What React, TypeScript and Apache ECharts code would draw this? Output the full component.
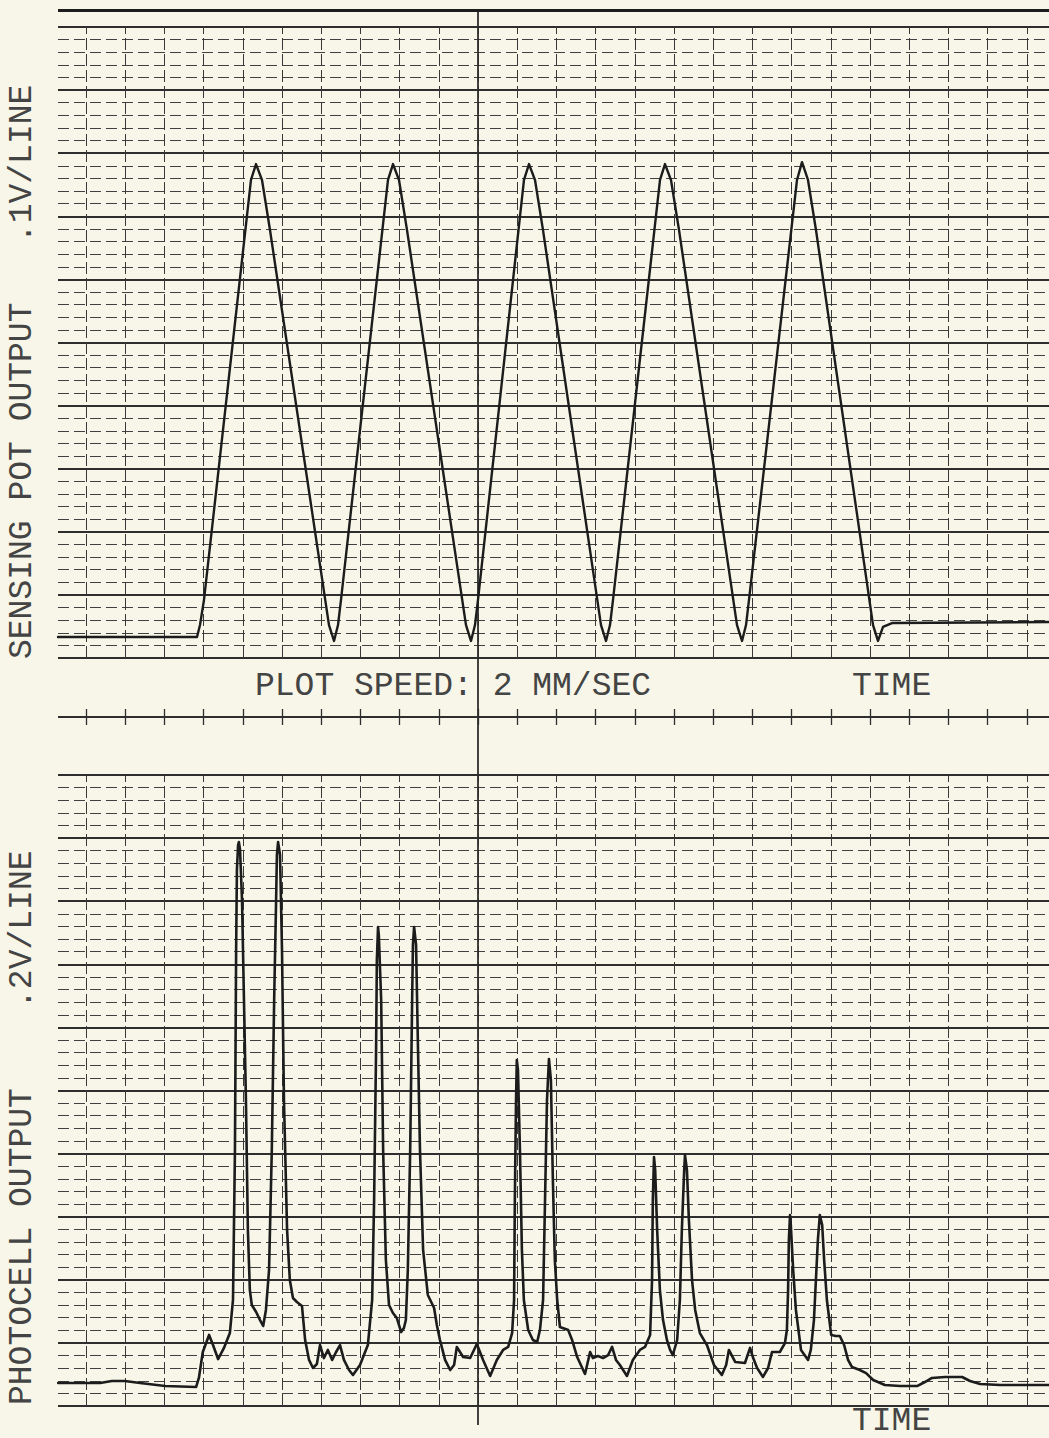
import React, { useEffect, useRef } from "react";
import * as echarts from "echarts";

// Time in chart-paper divisions (vertical grid line = 1 division)
const X_MIN = -0.714;
const X_MAX = 24.566;
const gridTimes = [0, 1, 2, 3, 4, 5, 6, 7, 8, 9, 10, 11, 12, 13, 14, 15, 16, 17, 18, 19, 20, 21, 22, 23, 24];

// Upper trace: sensing pot output, in lines (.1V/line)
const timeTop = [
  -0.714, 2.832, 2.908, 3.01, 4.209, 4.337, 4.49, 4.694, 6.199, 6.327, 6.429, 6.505,
  7.704, 7.832, 7.985, 8.189, 9.694, 9.821, 9.923, 10.0, 11.173, 11.301, 11.454, 11.658,
  13.138, 13.265, 13.367, 13.444, 14.643, 14.77, 14.923, 15.128, 16.607, 16.735, 16.837, 16.913,
  18.138, 18.265, 18.418, 18.622, 20.077, 20.204, 20.332, 20.561, 24.566,
];
const potTop = [
  1.66, 1.66, 2.61, 4.6, 37.88, 39.14, 37.88, 33.91, 2.61, 1.35, 2.61, 4.6,
  37.88, 39.14, 37.88, 33.91, 2.61, 1.35, 2.61, 4.6, 37.88, 39.14, 37.88, 33.91,
  2.61, 1.35, 2.61, 4.6, 37.88, 39.14, 37.88, 33.91, 2.61, 1.35, 2.61, 4.6,
  37.88, 39.29, 37.88, 33.91, 2.61, 1.35, 2.46, 2.77, 2.85,
];

// Lower trace: photocell output, in lines (.2V/line)
const timeBottom = [
  -0.71, 0.36, 0.66, 0.99, 1.38, 2.02, 2.81, 2.88, 2.98, 3.14,
  3.24, 3.37, 3.52, 3.67, 3.75, 3.8, 3.83, 3.85, 3.88, 3.9,
  3.93, 3.98, 4.03, 4.08, 4.13, 4.18, 4.23, 4.34, 4.44, 4.52,
  4.59, 4.67, 4.74, 4.8, 4.85, 4.87, 4.9, 4.95, 5.0, 5.05,
  5.13, 5.2, 5.28, 5.38, 5.51, 5.59, 5.69, 5.79, 5.89, 5.97,
  6.07, 6.17, 6.28, 6.38, 6.48, 6.58, 6.71, 6.81, 6.99, 7.19,
  7.3, 7.35, 7.4, 7.42, 7.45, 7.47, 7.53, 7.58, 7.65, 7.73,
  7.83, 7.93, 8.04, 8.11, 8.16, 8.21, 8.27, 8.32, 8.34, 8.37,
  8.42, 8.47, 8.52, 8.6, 8.72, 8.88, 8.95, 9.03, 9.16, 9.29,
  9.39, 9.46, 9.62, 9.8, 9.97, 10.13, 10.31, 10.48, 10.64, 10.77,
  10.87, 10.92, 10.94, 10.97, 10.99, 11.02, 11.07, 11.12, 11.17, 11.28,
  11.4, 11.51, 11.58, 11.66, 11.71, 11.76, 11.81, 11.86, 11.91, 11.96,
  12.02, 12.09, 12.3, 12.4, 12.53, 12.73, 12.86, 12.93, 13.06, 13.19,
  13.32, 13.42, 13.52, 13.62, 13.8, 13.95, 14.13, 14.26, 14.39, 14.44,
  14.46, 14.49, 14.52, 14.57, 14.64, 14.72, 14.82, 14.9, 14.97, 15.08,
  15.15, 15.2, 15.26, 15.28, 15.33, 15.38, 15.46, 15.54, 15.66, 15.84,
  16.02, 16.22, 16.33, 16.4, 16.56, 16.81, 16.94, 17.02, 17.12, 17.27,
  17.4, 17.5, 17.7, 17.83, 17.88, 17.91, 17.93, 17.96, 17.98, 18.04,
  18.11, 18.24, 18.42, 18.49, 18.57, 18.62, 18.67, 18.72, 18.78, 18.83,
  18.9, 19.01, 19.13, 19.23, 19.34, 19.44, 19.54, 19.74, 19.9, 20.08,
  20.38, 20.77, 21.2, 21.4, 21.58, 21.91, 22.35, 22.55, 22.81, 23.32,
  24.57,
];
const photoBottom = [
  1.82, 1.82, 1.98, 1.98, 1.82, 1.58, 1.51, 2.22, 4.28, 5.63,
  4.83, 3.72, 4.6, 5.78, 8.4, 20.29, 36.13, 42.47, 44.45, 44.69,
  44.06, 40.1, 32.17, 24.25, 13.95, 9.19, 8.0, 7.45, 6.81, 6.34,
  7.61, 10.78, 20.29, 32.17, 40.1, 43.66, 44.69, 43.66, 36.13, 24.25,
  13.95, 9.98, 8.56, 8.24, 7.92, 5.23, 3.65, 3.01, 3.33, 4.83,
  3.8, 4.44, 3.65, 4.28, 4.83, 3.65, 2.85, 2.46, 3.25, 4.83,
  8.4, 16.32, 28.21, 35.34, 37.96, 37.32, 32.17, 20.29, 11.57, 8.0,
  7.37, 6.97, 5.86, 6.18, 6.81, 10.78, 20.29, 32.17, 36.53, 37.96,
  36.53, 28.21, 20.29, 12.36, 8.8, 7.77, 6.42, 5.23, 3.65, 2.85,
  3.25, 4.68, 3.88, 3.8, 4.91, 3.65, 2.38, 3.65, 4.44, 4.68,
  5.78, 8.4, 16.32, 24.25, 27.42, 26.62, 20.29, 12.36, 8.4, 6.02,
  5.23, 5.07, 6.02, 8.4, 16.32, 24.25, 27.5, 25.83, 17.91, 11.57,
  8.4, 6.26, 6.02, 5.23, 3.88, 2.54, 4.28, 3.8, 3.96, 3.8,
  4.04, 4.68, 3.65, 3.25, 2.38, 3.65, 4.44, 4.68, 5.63, 9.98,
  16.32, 19.73, 18.7, 13.95, 9.19, 6.81, 5.23, 4.44, 4.04, 5.23,
  8.4, 13.95, 18.7, 19.89, 18.7, 14.74, 9.98, 7.61, 5.78, 4.83,
  3.25, 2.46, 3.25, 4.44, 3.49, 3.41, 4.6, 3.8, 3.01, 2.3,
  3.01, 4.28, 4.28, 4.99, 6.02, 9.19, 13.15, 15.13, 14.34, 10.78,
  7.61, 4.44, 3.65, 4.44, 6.81, 9.98, 13.15, 15.13, 14.34, 11.57,
  8.4, 5.63, 5.55, 5.55, 4.83, 3.65, 3.09, 2.85, 2.61, 2.06,
  1.66, 1.58, 1.58, 1.9, 2.22, 2.3, 2.3, 1.98, 1.74, 1.66,
  1.66,
];

const CENTER_TIME = 10;
const PAPER = "#f7f6e8";
const INK = "#1c1c1c";
const GRIDINK = "#2e2e2e";
const TYPE = "#444444";
const FONT = "'Liberation Mono', 'DejaVu Sans Mono', monospace";

export default function App() {
  const ref = useRef<HTMLDivElement>(null);

  useEffect(() => {
    document.body.style.margin = "0";
    const chart = echarts.init(ref.current!, null, { renderer: "svg" });

    const panelY = (idx: number) => ({
      type: "value",
      gridIndex: idx,
      min: 0,
      max: 50,
      interval: 5,
      axisLine: { show: false },
      axisTick: { show: false },
      axisLabel: { show: false },
      splitLine: { show: true, lineStyle: { color: GRIDINK, width: 1.8 } },
      minorTick: { show: false, splitNumber: 5 },
      minorSplitLine: { show: true, lineStyle: { color: "#404040", width: 1, type: [11, 5] } },
    });
    const hiddenX = (idx: number) => ({
      type: "value",
      gridIndex: idx,
      min: X_MIN,
      max: X_MAX,
      axisLine: { show: false },
      axisTick: { show: false },
      axisLabel: { show: false },
      splitLine: { show: false },
    });
    const hiddenY = (idx: number, min: number, max: number) => ({
      type: "value",
      gridIndex: idx,
      min,
      max,
      axisLine: { show: false },
      axisTick: { show: false },
      axisLabel: { show: false },
      splitLine: { show: false },
    });
    const verticals = (idx: number, style: any) => ({
      type: "line",
      xAxisIndex: idx,
      yAxisIndex: idx,
      data: [],
      silent: true,
      z: 1,
      markLine: {
        silent: true,
        symbol: ["none", "none"],
        label: { show: false },
        emphasis: { disabled: true },
        lineStyle: style,
        data: gridTimes.map((t) => ({ xAxis: t })),
      },
    });
    const typed = (text: string, x: number, y: number, rotation = 0) => ({
      type: "text",
      x,
      y,
      rotation,
      style: {
        text,
        fontSize: 33,
        fontFamily: FONT,
        fill: TYPE,
        textAlign: "left",
        textVerticalAlign: "middle",
      },
    });

    chart.setOption({
      animation: false,
      backgroundColor: PAPER,
      grid: [
        { left: 58, top: 27, width: 991, height: 631 },
        { left: 58, top: 775, width: 991, height: 631 },
        { left: 58, top: 709, width: 991, height: 16 },
        { left: 58, top: 10, width: 991, height: 1415 },
      ],
      xAxis: [hiddenX(0), hiddenX(1), hiddenX(2), hiddenX(3)],
      yAxis: [panelY(0), panelY(1), hiddenY(2, -1, 1), hiddenY(3, 0, 1)],
      series: [
        verticals(0, { color: "#383838", width: 1, type: [12, 4] }),
        verticals(1, { color: "#383838", width: 1, type: [12, 4] }),
        {
          type: "line",
          xAxisIndex: 2,
          yAxisIndex: 2,
          data: [],
          silent: true,
          z: 1,
          markLine: {
            silent: true,
            symbol: ["none", "none"],
            label: { show: false },
            emphasis: { disabled: true },
            lineStyle: { color: GRIDINK, width: 1.3, type: "solid" },
            data: [
              ...gridTimes.map((t) => ({ xAxis: t })),
              { yAxis: 0, lineStyle: { color: GRIDINK, width: 2, type: "solid" } },
            ],
          },
        },
        {
          type: "line",
          xAxisIndex: 3,
          yAxisIndex: 3,
          data: [],
          silent: true,
          z: 2,
          markLine: {
            silent: true,
            symbol: ["none", "none"],
            label: { show: false },
            emphasis: { disabled: true },
            data: [
              { xAxis: CENTER_TIME, lineStyle: { color: GRIDINK, width: 1.8, type: "solid" } },
              { yAxis: 1, lineStyle: { color: INK, width: 3, type: "solid" } },
            ],
          },
        },
        {
          type: "line",
          name: "SENSING POT OUTPUT",
          xAxisIndex: 0,
          yAxisIndex: 0,
          data: timeTop.map((t, i) => [t, potTop[i]]),
          showSymbol: false,
          z: 5,
          lineStyle: { color: INK, width: 2.4, join: "round", cap: "round" },
        },
        {
          type: "line",
          name: "PHOTOCELL OUTPUT",
          xAxisIndex: 1,
          yAxisIndex: 1,
          data: timeBottom.map((t, i) => [t, photoBottom[i]]),
          showSymbol: false,
          z: 5,
          lineStyle: { color: INK, width: 2.6, join: "round", cap: "round" },
        },
      ],
      graphic: [
        typed("SENSING POT OUTPUT   .1V/LINE", 22, 659, Math.PI / 2),
        typed("PHOTOCELL OUTPUT    .2V/LINE", 22, 1405, Math.PI / 2),
        typed("PLOT SPEED: 2 MM/SEC", 255, 686),
        typed("TIME", 852, 686),
        typed("TIME", 852, 1421),
      ],
    });

    return () => chart.dispose();
  }, []);

  return <div ref={ref} style={{ width: 1049, height: 1438, background: PAPER }} />;
}
